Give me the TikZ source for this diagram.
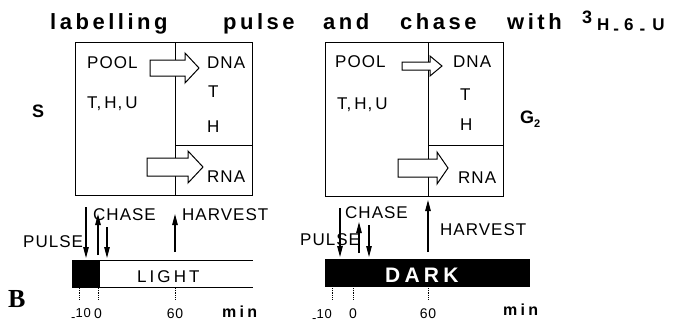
\documentclass[tikz,border=0pt]{standalone}
\usepackage{fontspec}
\setmainfont{Liberation Sans}
\newfontfamily\labfont[LetterSpace=6]{Liberation Sans}
\newfontfamily\bigfont[LetterSpace=18]{Liberation Sans}
\newfontfamily\serifB{Liberation Serif}
\usetikzlibrary{arrows.meta}
\newcommand\fatarr[6]{\draw[fatline] ({#1},{#4-#5}) -- ({#2},{#4-#5}) -- ({#2},{#4-#6}) -- ({#3},{#4}) -- ({#2},{#4+#6}) -- ({#2},{#4+#5}) -- ({#1},{#4+#5}) -- cycle;}
\newcommand\boldsp[2]{\bfseries\fontsize{#1}{#1}\selectfont\addfontfeature{LetterSpace=#2}}
\newcommand\lowdash{\raisebox{-0.45ex}{-}}
\tikzset{
  txt/.style={anchor=base west, inner sep=0pt},
  ttl/.style={txt, font=\boldsp{22}{16}},
  lab/.style={txt, font=\labfont\fontsize{17}{17}\selectfont},
  tick/.style={anchor=base, inner sep=0pt, font=\labfont\fontsize{14}{14}\selectfont},
  boxline/.style={line width=1pt},
  fatline/.style={line width=1pt, fill=white, line join=miter},
  arr/.style={line width=1.1pt, -{Triangle[length=11pt,width=5.5pt]}},
  tk/.style={line width=0.8pt, densely dotted},
}
\begin{document}
\begin{tikzpicture}[x=1pt,y=-1pt]
\useasboundingbox (0,0) rectangle (678,325);
% title
\node[ttl] (t1) at (50,29) {labelling};
\node[ttl] (t2) at (223,29) {pulse};
\node[ttl] (t3) at (323,29) {and};
\node[ttl] (t4) at (400,29) {chase};
\node[ttl] (t5) at (507,29) {with};
\node[txt, font=\bfseries\fontsize{18}{18}\selectfont] (t6) at (582,23) {3};
\node[txt, font=\bfseries\fontsize{17}{17}\selectfont] (t7) at (597,30) {H\hspace{4pt}\lowdash\hspace{5pt}6\hspace{6pt}\lowdash\hspace{7pt}U};
% left panel
\draw[boxline] (75,42) rectangle (252,195);
\draw[boxline] (175,42) -- (175,195);
\draw[boxline] (175,145) -- (252,145);
\fatarr{150}{185}{199}{68}{8}{15}
\fatarr{147}{188}{203}{167}{9}{16}
\node[lab] (pool1) at (87,68) {POOL};
\node[lab] (thu1) at (87,108) {T,\hspace{3pt}H,\hspace{3pt}U};
\node[lab] (dna1) at (207,68) {DNA};
\node[lab] (tt1) at (208,97) {T};
\node[lab] (hh1) at (207,132) {H};
\node[lab] (rna1) at (207,182) {RNA};
\node[txt, font=\bfseries\fontsize{18}{18}\selectfont] (S) at (32,117) {S};
% right panel
\draw[boxline] (325,42) rectangle (503,196);
\draw[boxline] (428,42) -- (428,196);
\draw[boxline] (428,145) -- (503,145);
\fatarr{402}{430}{442}{66}{4}{10}
\fatarr{398}{437}{448}{168}{9}{16}
\node[lab] (pool2) at (335,67) {POOL};
\node[lab] (thu2) at (337,109) {T,\hspace{3pt}H,\hspace{3pt}U};
\node[lab] (dna2) at (453,67) {DNA};
\node[lab] (tt2) at (460,100) {T};
\node[lab] (hh2) at (460,130) {H};
\node[lab] (rna2) at (458,183) {RNA};
\node[txt, font=\bfseries\fontsize{18}{18}\selectfont] (G) at (520,123) {G\raisebox{-0.45ex}{\fontsize{11}{11}\selectfont 2}};
% left timeline
\fill (72,260) rectangle (100,287);
\draw[boxline] (72,260) -- (253,260);
\draw[boxline] (72,287) -- (253,287);
\node[txt, font=\bigfont\fontsize{17}{17}\selectfont] (light) at (137,282) {LIGHT};
\coordinate (p1a) at (86,207); \coordinate (p1b) at (86,258);
\coordinate (c1a) at (98,255); \coordinate (c1b) at (98,214);
\coordinate (d1a) at (107,227); \coordinate (d1b) at (107,258);
\coordinate (h1a) at (175,252); \coordinate (h1b) at (175,214);
\draw[arr] (p1a) -- (p1b);
\draw[arr] (c1a) -- (c1b);
\draw[arr] (d1a) -- (d1b);
\draw[arr] (h1a) -- (h1b);
\node[lab] (pulse1) at (23,247) {PULSE};
\node[lab] (chase1) at (93,220) {CHASE};
\node[lab] (harv1) at (182,220) {HARVEST};
\draw[tk] (79,288) -- (79,300);
\draw[tk] (98,288) -- (98,300);
\draw[tk] (175,288) -- (175,300);
\node[txt, font=\labfont\fontsize{13}{13}\selectfont] (m10a) at (71,317) {\raisebox{-0.6ex}{-}10};
\node[tick] (z1) at (98,318) {0};
\node[tick] (s1) at (175,318) {60};
\node[txt, font=\boldsp{16}{20}] (min1) at (222,317) {min};
\node[txt, font=\serifB\bfseries\fontsize{26}{26}\selectfont] (B) at (8,307) {B};
% right timeline
\fill (325,259) rectangle (530,287);
\node[txt, text=white, font=\boldsp{21}{20}] (dark) at (385,282) {DARK};
\coordinate (p2a) at (340,208); \coordinate (p2b) at (340,257);
\coordinate (c2a) at (359,253); \coordinate (c2b) at (359,222);
\coordinate (d2a) at (369,225); \coordinate (d2b) at (369,257);
\coordinate (h2a) at (428,252); \coordinate (h2b) at (428,200);
\draw[arr] (p2a) -- (p2b);
\draw[arr] (c2a) -- (c2b);
\draw[arr] (d2a) -- (d2b);
\draw[arr] (h2a) -- (h2b);
\node[lab] (pulse2) at (300,245) {PULSE};
\node[lab] (chase2) at (345,218) {CHASE};
\node[lab] (harv2) at (440,235) {HARVEST};
\draw[tk] (332,288) -- (332,300);
\draw[tk] (353,288) -- (353,300);
\draw[tk] (428,288) -- (428,300);
\node[txt, font=\labfont\fontsize{13}{13}\selectfont] (m10b) at (312,318) {\raisebox{-0.6ex}{-}10};
\node[tick] (z2) at (353,318) {0};
\node[tick] (s2) at (428,318) {60};
\node[txt, font=\boldsp{16}{20}] (min2) at (503,315) {min};
\end{tikzpicture}
\end{document}
